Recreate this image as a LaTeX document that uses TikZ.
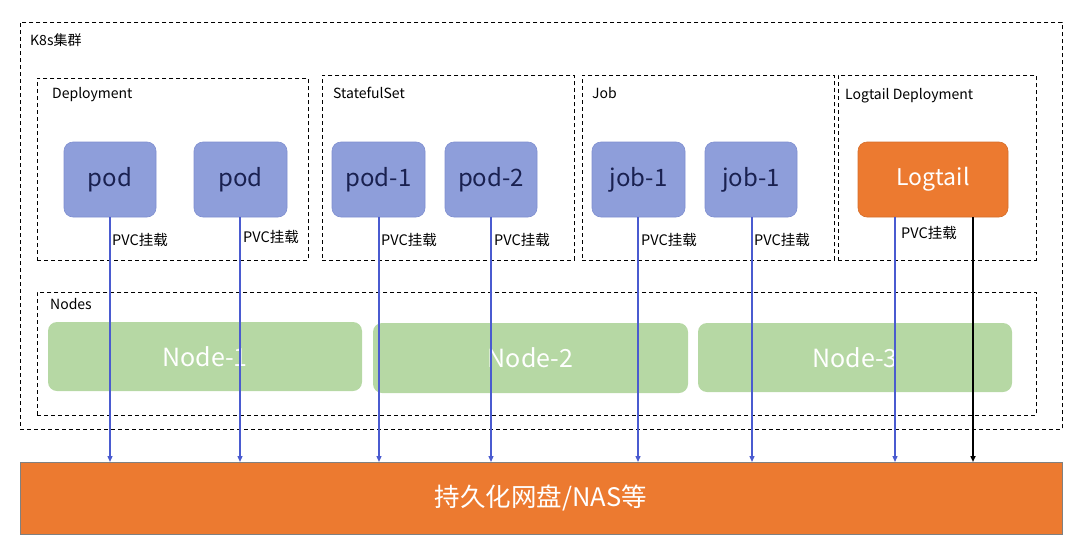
\documentclass[tikz,border=0pt]{standalone}
\usepackage{fontspec}
\setmainfont{Noto Sans CJK SC}
\usetikzlibrary{arrows.meta}
\definecolor{podfill}{HTML}{8E9EDA}
\definecolor{podedge}{HTML}{7F8FD0}
\definecolor{podtext}{HTML}{1A2150}
\definecolor{orangef}{HTML}{EC7A30}
\definecolor{nodegreen}{HTML}{B6D8A4}
\definecolor{arrowblue}{HTML}{4A5BD0}
\tikzset{
  grp/.style={draw=black, dash pattern=on 4pt off 3pt, line width=0.8pt},
  grplabel/.style={anchor=west, inner sep=0pt, font=\fontsize{14}{16}\selectfont},
  podbox/.style={draw=podedge, fill=podfill, rounded corners=9pt, line width=0.6pt, font=\fontsize{24}{28}\selectfont, text=podtext},
  greenbox/.style={fill=nodegreen, rounded corners=9pt, font=\fontsize{25}{28}\selectfont, text=white},
  pvc/.style={-{Triangle[length=6pt,width=5pt]}, draw=arrowblue, line width=1.3pt},
  pvclabel/.style={anchor=west, inner sep=0pt, font=\fontsize{14.5}{16}\selectfont},
}
\begin{document}
\begin{tikzpicture}[x=1pt,y=-1pt]
\useasboundingbox (0,0) rectangle (1080,544);
% outer cluster
\node[grp, minimum width=1042pt, minimum height=407pt, anchor=north west, inner sep=0pt] (k8s) at (20,22) {};
\node[grplabel] (k8slbl) at (30,40) {K8s集群};
% groups
\node[grp, minimum width=271pt, minimum height=182pt, anchor=north west, inner sep=0pt] (dep) at (37,78) {};
\node[grplabel] (deplbl) at (52,95) {Deployment};
\node[grp, minimum width=252pt, minimum height=185pt, anchor=north west, inner sep=0pt] (sts) at (322,75) {};
\node[grplabel] (stslbl) at (333,93) {StatefulSet};
\node[grp, minimum width=252pt, minimum height=185pt, anchor=north west, inner sep=0pt] (job) at (582,75) {};
\node[grplabel] (joblbl) at (592,93) {Job};
\node[grp, minimum width=198pt, minimum height=185pt, anchor=north west, inner sep=0pt] (ltd) at (838,75) {};
\node[grplabel] (ltdlbl) at (845,96) {Logtail Deployment};
% nodes group
\node[grp, minimum width=999pt, minimum height=123pt, anchor=north west, inner sep=0pt] (nodes) at (37,292) {};
\node[grplabel] (nodeslbl) at (50,304) {Nodes};
\node[greenbox, minimum width=314pt, minimum height=69pt] (n1) at (205,356.5) {Node-1};
\node[greenbox, minimum width=315pt, minimum height=70pt] (n2) at (530.5,358) {Node-2};
\node[greenbox, minimum width=314pt, minimum height=69pt] (n3) at (855,357.5) {Node-3};
% pods
\node[podbox, minimum width=92pt, minimum height=75pt] (p1) at (110,179.5) {pod};
\node[podbox, minimum width=93pt, minimum height=75pt] (p2) at (240.5,179.5) {pod};
\node[podbox, minimum width=93pt, minimum height=75pt] (p3) at (378.5,179.5) {pod-1};
\node[podbox, minimum width=92pt, minimum height=75pt] (p4) at (491,179.5) {pod-2};
\node[podbox, minimum width=93pt, minimum height=75pt] (p5) at (638.5,179.5) {job-1};
\node[podbox, minimum width=92pt, minimum height=75pt] (p6) at (751,179.5) {job-1};
\node[podbox, draw=orangef!90!black, fill=orangef, text=white, minimum width=150pt, minimum height=75pt, font=\fontsize{23}{28}\selectfont] (lt) at (933,179.5) {Logtail};
% storage
\node[draw=gray, fill=orangef, line width=0.8pt, minimum width=1042pt, minimum height=72pt, anchor=north west, inner sep=0pt] (nas) at (20,462) {};
\node[text=white, font=\fontsize{25.5}{28}\selectfont] (naslbl) at (541,498) {持久化网盘/NAS等};
% arrows
\coordinate (a1) at (110,462); \coordinate (a2) at (240,462);
\coordinate (a3) at (379,462); \coordinate (a4) at (491,462);
\coordinate (a5) at (638,462); \coordinate (a6) at (752,462);
\coordinate (a7) at (895,462); \coordinate (a8) at (973,462);
\draw[pvc] (p1.south -| a1) -- (a1);
\draw[pvc] (p2.south -| a2) -- (a2);
\draw[pvc] (p3.south -| a3) -- (a3);
\draw[pvc] (p4.south -| a4) -- (a4);
\draw[pvc] (p5.south -| a5) -- (a5);
\draw[pvc] (p6.south -| a6) -- (a6);
\draw[pvc] (lt.south -| a7) -- (a7);
\draw[pvc, draw=black, line width=1.8pt] (lt.south -| a8) -- (a8);
% labels
\node[pvclabel] (l1) at (112,240) {PVC挂载};
\node[pvclabel] (l2) at (243,237) {PVC挂载};
\node[pvclabel] (l3) at (381,240) {PVC挂载};
\node[pvclabel] (l4) at (494,240) {PVC挂载};
\node[pvclabel] (l5) at (641,240) {PVC挂载};
\node[pvclabel] (l6) at (754,240) {PVC挂载};
\node[pvclabel] (l7) at (901,233) {PVC挂载};
\end{tikzpicture}
\end{document}
